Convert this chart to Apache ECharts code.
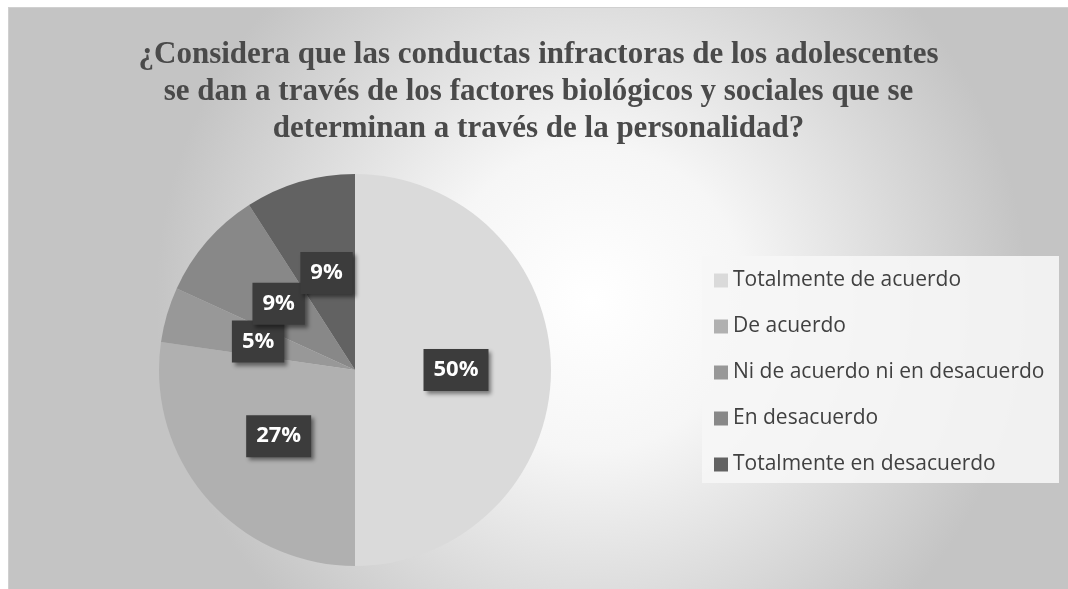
<!DOCTYPE html>
<html>
<head>
<meta charset="utf-8">
<script src="https://cdn.jsdelivr.net/npm/echarts@6/dist/echarts.min.js"></script>
<style>
    html, body { margin: 0; padding: 0; background: #ffffff; }
    #chart {
        position: absolute;
        left: 8px;
        top: 7px;
        width: 1060px;
        height: 582px;
        border-left: 1px solid #d0d0d0;
        border-top: 1px solid #d0d0d0;
        box-sizing: border-box;
    }
</style>
</head>
<body>
<div id="chart"></div>
<script>
// respuestas (n = 22)
var categories = [
    'Totalmente de acuerdo',
    'De acuerdo',
    'Ni de acuerdo ni en desacuerdo',
    'En desacuerdo',
    'Totalmente en desacuerdo'
];
var counts = [11, 6, 1, 2, 2];
var colors = ['#dadada', '#b0b0b0', '#989898', '#888888', '#626262'];

var titleText = '¿Considera que las conductas infractoras de los adolescentes\n' +
    'se dan a través de los factores biológicos y sociales que se\n' +
    'determinan a través de la personalidad?';

var chart = echarts.init(document.getElementById('chart'));

var pieData = [];
for (var i = 0; i < categories.length; i++) {
    pieData.push({ name: categories[i], value: counts[i], itemStyle: { color: colors[i] } });
}

var option = {
    backgroundColor: {
        type: 'radial',
        x: 0.55,
        y: 0.5,
        r: 0.75,
        colorStops: [
            { offset: 0, color: '#ffffff' },
            { offset: 0.35, color: '#f6f6f6' },
            { offset: 1, color: '#c4c4c4' }
        ]
    },
    title: {
        text: titleText,
        left: 'center',
        top: 23,
        textStyle: {
            fontFamily: 'Liberation Serif',
            fontWeight: 'bold',
            fontSize: 31,
            lineHeight: 37,
            color: '#4a4a4a'
        }
    },
    graphic: [
        { // fondo de la leyenda
            type: 'rect',
            left: 693,
            top: 248,
            shape: { width: 357, height: 227 },
            style: { fill: '#f6f6f6', opacity: 0.9 },
            z: 0
        }
    ],
    legend: {
        orient: 'vertical',
        left: 705,
        top: 262,
        padding: 0,
        itemWidth: 14,
        itemHeight: 14,
        itemGap: 25,
        icon: 'rect',
        textStyle: {
            fontFamily: 'Open Sans',
            fontSize: 21,
            lineHeight: 20,
            color: '#404040'
        },
        data: categories
    },
    series: [
        {
            type: 'pie',
            center: [346, 362],
            radius: 196,
            startAngle: 90,
            clockwise: true,
            percentPrecision: 0,
            avoidLabelOverlap: false,
            silent: true,
            label: {
                show: true,
                position: 'inside',
                formatter: '{d}%',
                fontFamily: 'Open Sans',
                fontWeight: 'bold',
                fontSize: 22,
                color: '#ffffff',
                backgroundColor: '#3c3c3c',
                padding: [11, 10, 9, 10],
                shadowColor: 'rgba(0,0,0,0.45)',
                shadowBlur: 4,
                shadowOffsetX: 3,
                shadowOffsetY: 3
            },
            labelLayout: { hideOverlap: false },
            labelLine: { show: false },
            itemStyle: { borderWidth: 0 },
            data: pieData
        }
    ]
};

chart.setOption(option);
</script>
</body>
</html>
